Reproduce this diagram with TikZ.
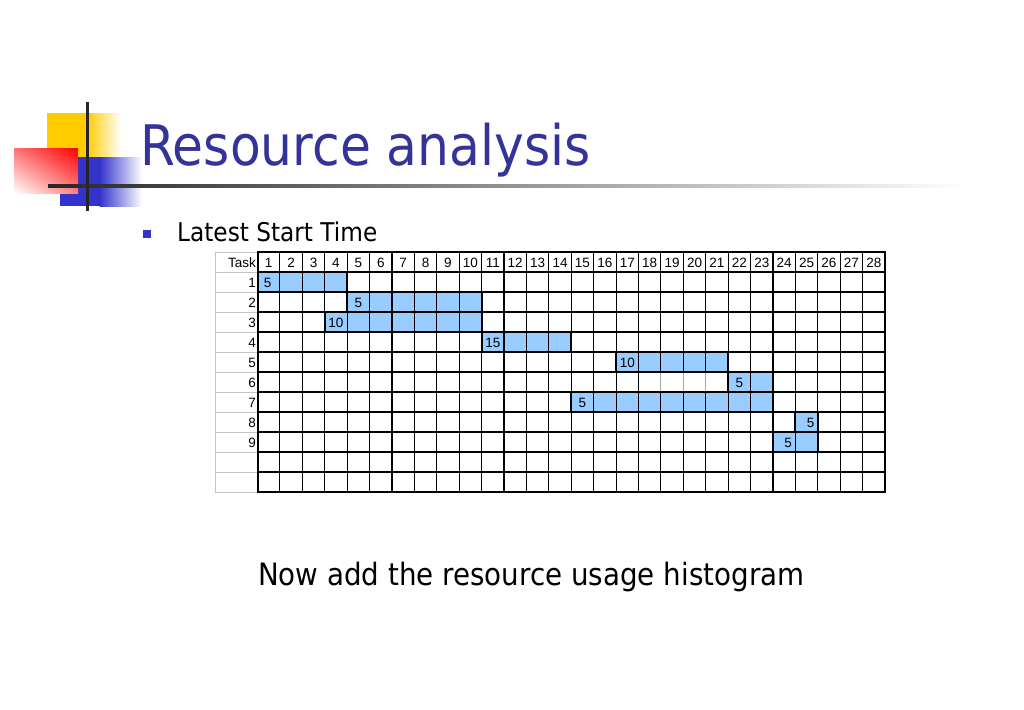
\documentclass[tikz,border=0pt]{standalone}
\usepackage{fontspec}
\usetikzlibrary{shadings}
\newfontfamily\tahoma{DejaVu Sans}[FakeStretch=0.9]
\newfontfamily\arialf{Liberation Sans}
\definecolor{titleblue}{RGB}{51,51,153}
\definecolor{logoblue}{RGB}{51,51,204}
\definecolor{logoyellow}{RGB}{255,204,0}
\definecolor{barblue}{RGB}{153,204,255}
\definecolor{gridgray}{RGB}{195,195,195}
\begin{document}
\begin{tikzpicture}[x=1pt,y=-1pt,
  cell/.style={font=\arialf\fontsize{13.5}{14}\selectfont, inner sep=0pt, anchor=base},
  gridline/.style={black, line width=1.1pt},
  barline/.style={black, line width=1.8pt},
  grayline/.style={black!35, line width=1.1pt}]
\useasboundingbox (0,0) rectangle (1024,709);
\fill[white] (0,0) rectangle (1024,709);
% ---------- logo ----------
\fill[logoyellow] (47,113) rectangle (87,157);
\shade[left color=logoyellow, right color=white] (86.5,113) rectangle (121,157);
\fill[logoblue] (60,157) rectangle (100,206);
\shade[left color=logoblue, right color=white] (99.5,157) rectangle (142,206);
\shade[upper left=red!55, upper right=red, lower left=white, lower right=red!50] (14,148) rectangle (78,193);
\shade[left color=black!85, middle color=black!45, right color=white] (48,184.5) rectangle (965,187.5);
\fill[black!85] (85.5,102) rectangle (88.5,211);
% ---------- texts ----------
\node[anchor=base west, inner sep=0pt, font=\tahoma\fontsize{55.9}{60}\selectfont, text=titleblue] (title) at (140,165) {Resource analysis};
\fill[logoblue] (143,230) rectangle (151,238);
\node[anchor=base west, inner sep=0pt, font=\tahoma\fontsize{25.8}{30}\selectfont] (sub) at (177,241) {Latest Start Time};
\node[anchor=base west, inner sep=0pt, font=\tahoma\fontsize{30.8}{34}\selectfont] (note) at (258,585) {Now add the resource usage histogram};
% ---------- table ----------
\def\xo{257.5}\def\cw{22.411}\def\yo{252}\def\rh{20}
% bars fill
\foreach \r/\a/\b in {1/1/4, 2/5/10, 3/4/10, 4/11/14, 5/17/21, 6/22/23, 7/15/23, 8/25/25, 9/24/25}
  \fill[barblue] ({\xo+(\a-1)*\cw},{\yo+\r*\rh}) rectangle ({\xo+\b*\cw},{\yo+(\r+1)*\rh});
% left column (gray)
\foreach \j in {0,...,12}
  \draw[gridgray, line width=1pt] (215,{\yo+\j*\rh}) -- (\xo,{\yo+\j*\rh});
\draw[gridgray, line width=1pt] (215,\yo) -- (215,{\yo+12*\rh});
% grid
\foreach \i in {1,...,27}
  \draw[gridline] ({\xo+\i*\cw},\yo) -- ({\xo+\i*\cw},{\yo+12*\rh});
\foreach \j in {1,...,11}
  \draw[gridline] (\xo,{\yo+\j*\rh}) -- ({\xo+28*\cw},{\yo+\j*\rh});
\foreach \i in {18,19,20}
  \draw[grayline] ({\xo+\i*\cw},{\yo+6*\rh+0.7}) -- ({\xo+\i*\cw},{\yo+7*\rh-0.7});
% bar outlines
\foreach \r/\a/\b in {1/1/4, 2/5/10, 3/4/10, 4/11/14, 5/17/21, 6/22/23, 7/15/23, 8/25/25, 9/24/25}
  \draw[barline] ({\xo+(\a-1)*\cw},{\yo+\r*\rh}) rectangle ({\xo+\b*\cw},{\yo+(\r+1)*\rh});
\draw[line width=2pt] (\xo,\yo) rectangle ({\xo+28*\cw},{\yo+12*\rh});
% header
\node[cell, anchor=base east] (task) at (256,{\yo+15}) {Task};
\foreach \i in {1,...,28}
  \node[cell] (h\i) at ({\xo+(\i-0.5)*\cw},{\yo+15}) {\i};
\foreach \r in {1,...,9}
  \node[cell, anchor=base east] (t\r) at (256,{\yo+\r*\rh+15}) {\r};
% bar labels
\foreach \r/\c/\lab/\dx in {1/1/5/-1, 2/5/5/0, 3/4/10/0, 4/11/15/0, 5/17/10/0, 6/22/5/0, 7/15/5/0, 8/25/5/4, 9/24/5/4}
  \node[cell] (l\r) at ({\xo+(\c-0.5)*\cw+\dx},{\yo+\r*\rh+15}) {\lab};
\end{tikzpicture}
\end{document}
